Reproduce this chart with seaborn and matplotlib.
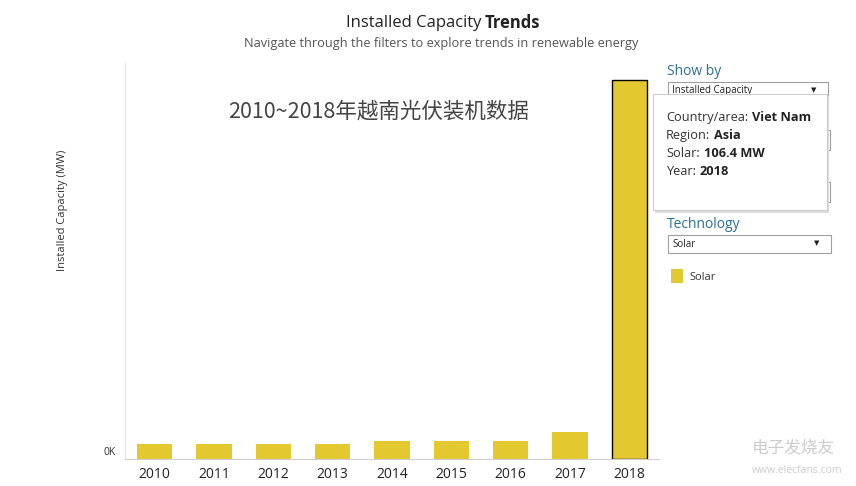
import matplotlib
matplotlib.use("Agg")
import matplotlib.pyplot as plt
import matplotlib.transforms as mtransforms
import seaborn as sns
import pandas as pd
from matplotlib.patches import Rectangle

# ---- data ----
years = ["2010", "2011", "2012", "2013", "2014", "2015", "2016", "2017", "2018"]
solar_mw = [4.2, 4.2, 4.2, 4.2, 5.1, 5.1, 5.1, 7.6, 106.4]
y_ticks = [0]
y_tick_labels = ["0K"]

title_normal = "Installed Capacity"
title_bold = "Trends"
subtitle = "Navigate through the filters to explore trends in renewable energy"
overlay = "2010~2018年越南光伏装机数据"
tooltip_keys = ["Country/area:", "Region:", "Solar:", "Year:"]
tooltip_vals = ["Viet Nam", "Asia", "106.4 MW", "2018"]

YELLOW = "#E3C92F"
TEAL = "#2A7196"

sns.set_theme(style="white")
plt.rcParams["font.family"] = ["Open Sans", "Noto Sans CJK SC", "DejaVu Sans"]

W, H = 856, 486
fig = plt.figure(figsize=(W / 100, H / 100), dpi=100)
fig.patch.set_facecolor("white")

def px(x, y):
    return x / W, 1 - y / H

ax_l, ax_r, ax_t, ax_b = 125, 659, 62, 459
ax = fig.add_axes([ax_l / W, 1 - ax_b / H, (ax_r - ax_l) / W, (ax_b - ax_t) / H])

df = pd.DataFrame({"Year": years, "Solar": solar_mw})
sns.barplot(data=df, x="Year", y="Solar", color=YELLOW, saturation=1,
            width=0.6, ax=ax, edgecolor="none")
for i, p in enumerate(ax.patches):
    if i == len(ax.patches) - 1:
        p.set_edgecolor("black")
        p.set_linewidth(1.0)

ax.set_xlim(-0.5, len(years) - 0.5)
ax.set_ylim(0, 111.5)
ax.set_yticks(y_ticks)
ax.set_yticklabels(y_tick_labels, fontsize=7.5, color="#333333")
ax.tick_params(axis="y", length=0, pad=7)
for lab in ax.get_yticklabels():
    lab.set_transform(lab.get_transform() +
                      mtransforms.ScaledTranslation(0, 8 / 100, fig.dpi_scale_trans))
ax.tick_params(axis="x", length=0, pad=6, labelsize=10, labelcolor="#222222")
ax.set_xticks([i - 0.5 for i in range(len(years) + 1)], minor=True)
ax.tick_params(axis="x", which="minor", length=4, color="#d0d0d0", width=0.8)
ax.set_xlabel("")
ax.set_ylabel("Installed Capacity (MW)", fontsize=8, color="#333333")
ax.yaxis.set_label_coords((68 - ax_l) / (ax_r - ax_l), (ax_b - 210) / (ax_b - ax_t))
for s in ["top", "right"]:
    ax.spines[s].set_visible(False)
ax.spines["left"].set_color("#e6e6e6")
ax.spines["bottom"].set_color("#d0d0d0")
ax.spines["left"].set_linewidth(0.8)
ax.spines["bottom"].set_linewidth(0.8)
ax.grid(False)

# ---- titles ----
fig.text(*px(481, 23), title_normal, ha="right", va="center", fontsize=12, color="#222222")
fig.text(*px(485, 23), title_bold, ha="left", va="center", fontsize=12, color="#222222",
         fontweight="bold")
fig.text(*px(441, 44), subtitle, ha="center", va="center", fontsize=9.2, color="#555555")

fig.text(*px(228, 111), overlay, ha="left", va="center", fontsize=15.5, color="#444444",
         family=["Noto Sans CJK SC", "DejaVu Sans"])

# ---- right control panel ----
def box(x0, y0, x1, y1, ec="#a0a0a0", fc="white", lw=0.8, z=5):
    r = Rectangle(px(x0, y1), (x1 - x0) / W, (y1 - y0) / H, transform=fig.transFigure,
                  facecolor=fc, edgecolor=ec, linewidth=lw, zorder=z)
    fig.add_artist(r)

fig.text(*px(667, 71), "Show by", ha="left", va="center", fontsize=10, color=TEAL)
box(668, 82, 828, 100)
fig.text(*px(672, 91), "Installed Capacity", ha="left", va="center", fontsize=7, color="#222222", zorder=6)
fig.text(*px(814, 90), "▼", ha="center", va="center", fontsize=5, color="#222222",
         family="DejaVu Sans", zorder=6)
box(668, 130, 830, 150)
box(668, 182, 830, 202)

sh = Rectangle(px(655, 213), (829 - 655) / W, (213 - 96) / H, transform=fig.transFigure,
               facecolor="#dddddd", edgecolor="none", zorder=8)
fig.add_artist(sh)
box(653, 94, 827, 210, ec="#cccccc", lw=0.8, z=9)

renderer = fig.canvas.get_renderer()
for k, (key, val) in enumerate(zip(tooltip_keys, tooltip_vals)):
    ypos = 121 + 18 * k
    t = fig.text(*px(666, ypos), key, ha="left", va="baseline", fontsize=9.2,
                 color="#333333", zorder=10)
    bb = t.get_window_extent(renderer)
    fig.text((bb.x1 + 4) / W, 1 - ypos / H, val, ha="left", va="baseline", fontsize=9.2,
             fontweight="bold", color="#222222", zorder=10)

fig.text(*px(667, 224), "Technology", ha="left", va="center", fontsize=10, color=TEAL)
box(668, 235, 831, 253)
fig.text(*px(672, 244), "Solar", ha="left", va="center", fontsize=7, color="#222222", zorder=6)
fig.text(*px(817, 243), "▼", ha="center", va="center", fontsize=5, color="#222222",
         family="DejaVu Sans", zorder=6)
box(671, 269, 683, 283, ec="none", fc=YELLOW)
fig.text(*px(689, 277), "Solar", ha="left", va="center", fontsize=8, color="#333333")

fig.text(*px(752, 448), "电子发烧友", ha="left", va="center", fontsize=12, color="#cccccc",
         family=["Noto Sans CJK SC", "DejaVu Sans"], style="italic")
fig.text(*px(752, 470), "www.elecfans.com", ha="left", va="center", fontsize=7.5, color="#cccccc")

fig.savefig("out.png", dpi=100, facecolor="white")
